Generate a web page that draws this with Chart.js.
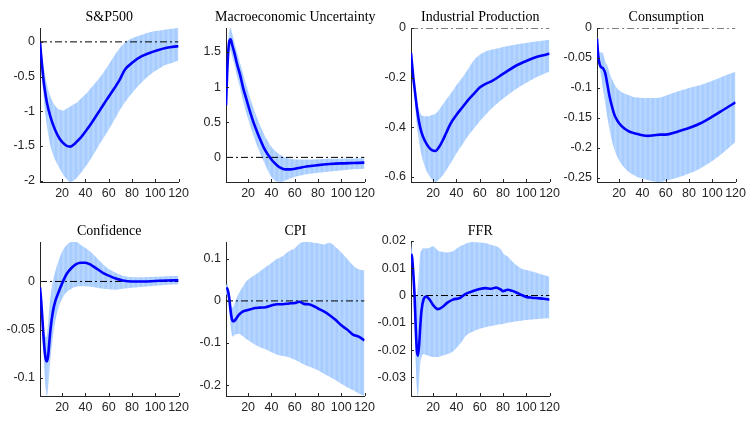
<!DOCTYPE html>
<html>
<head>
<meta charset="utf-8">
<script src="https://cdn.jsdelivr.net/npm/chart.js@4.4.1/dist/chart.umd.min.js"></script>
<style>
  html, body { margin: 0; padding: 0; background: #ffffff; }
  #wrap { position: relative; width: 747px; height: 422px; overflow: hidden; }
  #wrap canvas { position: absolute; }
</style>
</head>
<body>
<div id="wrap"></div>
<script>
// Impulse responses (horizon in months) with posterior median and 68% bands.

const xTickValues = [20, 40, 60, 80, 100, 120];

// S&P500
const spH = [1,2,3,4,5,7,10,14,18,21,24,27,30,33,36,41,46,53,58,64,69,74,81,88,95,102,109,115,120];
const spMed = [0,-0.2,-0.38,-0.55,-0.68,-0.88,-1.08,-1.27,-1.4,-1.46,-1.5,-1.51,-1.48,-1.43,-1.38,-1.27,-1.15,-0.97,-0.84,-0.69,-0.56,-0.4,-0.29,-0.21,-0.16,-0.12,-0.088,-0.072,-0.062];
const spUp = [0,-0.12,-0.24,-0.35,-0.45,-0.62,-0.79,-0.92,-0.98,-0.99,-0.96,-0.93,-0.9,-0.87,-0.82,-0.74,-0.64,-0.5,-0.38,-0.22,-0.1,-0.01,0.06,0.1,0.14,0.16,0.18,0.19,0.2];
const spLo = [0,-0.3,-0.55,-0.78,-0.95,-1.22,-1.5,-1.7,-1.83,-1.92,-1.98,-2.02,-2.0,-1.95,-1.89,-1.78,-1.65,-1.45,-1.32,-1.15,-1.0,-0.87,-0.72,-0.59,-0.48,-0.4,-0.33,-0.3,-0.27];
const spTicks = [0, -0.5, -1, -1.5, -2];

// Macroeconomic Uncertainty
const muH = [1,2,3,4,5,6,8,10,13,16,19,22,25,28,31,34,37,40,44,48,52,56,62,70,80,90,100,110,120];
const muMed = [0.74,1.2,1.52,1.66,1.68,1.62,1.5,1.36,1.18,0.97,0.8,0.63,0.48,0.35,0.23,0.12,0.04,-0.03,-0.1,-0.15,-0.17,-0.17,-0.155,-0.13,-0.11,-0.095,-0.085,-0.08,-0.075];
const muUp = [0.76,1.3,1.68,1.82,1.84,1.78,1.65,1.52,1.35,1.17,0.99,0.83,0.68,0.55,0.43,0.32,0.23,0.15,0.08,0.03,0.0,-0.02,-0.03,-0.03,-0.025,-0.02,-0.018,-0.015,-0.012];
const muLo = [0.72,1.1,1.38,1.5,1.52,1.46,1.33,1.19,0.99,0.78,0.6,0.44,0.29,0.15,0.03,-0.08,-0.19,-0.28,-0.34,-0.35,-0.33,-0.3,-0.27,-0.24,-0.22,-0.2,-0.185,-0.17,-0.16];
const muTicks = [1.5, 1, 0.5, 0];

// Industrial Production
const ipH = [1,2,3,4,5,6,8,10,13,16,19,22,25,28,31,35,40,45,50,55,60,65,70,80,90,100,110,120];
const ipMed = [-0.1,-0.15,-0.2,-0.24,-0.28,-0.32,-0.38,-0.42,-0.455,-0.478,-0.492,-0.495,-0.48,-0.455,-0.425,-0.385,-0.35,-0.32,-0.29,-0.265,-0.24,-0.225,-0.215,-0.185,-0.155,-0.133,-0.115,-0.104];
const ipUp = [-0.1,-0.14,-0.18,-0.22,-0.26,-0.29,-0.33,-0.35,-0.355,-0.355,-0.35,-0.345,-0.33,-0.31,-0.29,-0.265,-0.23,-0.2,-0.165,-0.13,-0.108,-0.095,-0.088,-0.076,-0.067,-0.06,-0.053,-0.047];
const ipLo = [-0.1,-0.16,-0.22,-0.28,-0.34,-0.39,-0.46,-0.51,-0.56,-0.59,-0.61,-0.62,-0.61,-0.595,-0.575,-0.545,-0.505,-0.47,-0.435,-0.405,-0.375,-0.35,-0.325,-0.285,-0.25,-0.22,-0.195,-0.175];
const ipTicks = [0, -0.2, -0.4, -0.6];

// Consumption
const coH = [1,2,3,4,5,6,7,8,10,12,14,16,18,20,24,28,32,36,40,45,50,55,60,70,80,90,100,110,120];
const coMed = [-0.018,-0.045,-0.058,-0.064,-0.066,-0.067,-0.07,-0.075,-0.095,-0.116,-0.132,-0.145,-0.153,-0.159,-0.167,-0.172,-0.175,-0.177,-0.179,-0.18,-0.179,-0.178,-0.178,-0.173,-0.167,-0.159,-0.148,-0.136,-0.124];
const coUp = [-0.015,-0.03,-0.04,-0.04,-0.041,-0.042,-0.048,-0.055,-0.064,-0.076,-0.086,-0.094,-0.1,-0.104,-0.109,-0.112,-0.115,-0.116,-0.117,-0.117,-0.117,-0.116,-0.113,-0.106,-0.1,-0.095,-0.088,-0.08,-0.073];
const coLo = [-0.02,-0.055,-0.065,-0.075,-0.085,-0.1,-0.112,-0.125,-0.15,-0.172,-0.19,-0.203,-0.213,-0.221,-0.232,-0.24,-0.245,-0.249,-0.251,-0.254,-0.256,-0.257,-0.255,-0.25,-0.243,-0.234,-0.222,-0.207,-0.19];
const coTicks = [0, -0.05, -0.1, -0.15, -0.2, -0.25];

// Confidence
const cfH = [1,2,3,4,5,6,7,8,9,10,12,14,17,20,24,28,32,36,40,45,50,55,60,66,72,80,90,100,110,120];
const cfMed = [-0.006,-0.02,-0.038,-0.057,-0.072,-0.081,-0.083,-0.077,-0.063,-0.05,-0.032,-0.021,-0.011,-0.002,0.008,0.014,0.018,0.0195,0.0195,0.017,0.013,0.009,0.006,0.003,0.001,0,0,0.0005,0.001,0.0012];
const cfUp = [-0.005,-0.015,-0.028,-0.043,-0.053,-0.058,-0.055,-0.042,-0.028,-0.016,0.0,0.01,0.022,0.031,0.038,0.041,0.041,0.038,0.035,0.03,0.024,0.018,0.013,0.009,0.006,0.0045,0.0045,0.005,0.0055,0.0056];
const cfLo = [-0.007,-0.025,-0.05,-0.075,-0.096,-0.113,-0.119,-0.11,-0.095,-0.08,-0.058,-0.042,-0.027,-0.018,-0.011,-0.0075,-0.0055,-0.005,-0.005,-0.0055,-0.0065,-0.0075,-0.008,-0.0085,-0.0075,-0.0065,-0.0055,-0.0045,-0.0035,-0.003];
const cfTicks = [0, -0.05, -0.1];

// CPI
const cpH = [1,2,3,4,5,6,7,8,9,10,12,15,18,22,26,30,35,40,45,50,55,60,64,68,72,76,80,85,90,95,100,105,110,115,120];
const cpMed = [0.028,0.03,0.02,0.002,-0.025,-0.042,-0.048,-0.048,-0.045,-0.041,-0.033,-0.026,-0.023,-0.02,-0.017,-0.016,-0.015,-0.011,-0.008,-0.008,-0.006,-0.005,-0.002,-0.007,-0.008,-0.012,-0.018,-0.025,-0.034,-0.045,-0.058,-0.068,-0.08,-0.085,-0.094];
const cpUp = [0.036,0.042,0.03,0.008,-0.008,-0.016,-0.015,-0.008,0.0,0.006,0.018,0.032,0.045,0.055,0.062,0.07,0.08,0.09,0.1,0.107,0.118,0.125,0.136,0.14,0.14,0.138,0.137,0.134,0.138,0.128,0.115,0.1,0.085,0.075,0.072];
const cpLo = [0.016,0.012,-0.005,-0.03,-0.06,-0.08,-0.085,-0.082,-0.08,-0.079,-0.078,-0.083,-0.09,-0.097,-0.104,-0.11,-0.115,-0.122,-0.128,-0.131,-0.134,-0.14,-0.145,-0.151,-0.156,-0.16,-0.165,-0.173,-0.18,-0.188,-0.197,-0.205,-0.212,-0.22,-0.226];
const cpTicks = [0.1, 0, -0.1, -0.2];

// FFR
const ffH = [1,2,3,4,5,6,7,8,9,10,12,14,17,20,24,28,32,37,43,48,54,60,65,70,74,78,80,84,88,92,96,100,105,110,115,120];
const ffMed = [0.0153,0.0138,0.008,0.0005,-0.011,-0.02,-0.022,-0.018,-0.011,-0.0055,-0.0012,-0.0004,-0.0015,-0.0035,-0.005,-0.0042,-0.0027,-0.0015,-0.0009,0.0006,0.0016,0.0024,0.0027,0.0025,0.0029,0.0022,0.0016,0.0021,0.0017,0.001,0.0002,-0.0005,-0.0008,-0.001,-0.0012,-0.0015];
const ffUp = [0.0196,0.0155,0.0105,0.005,0.0005,-0.0002,0.004,0.01,0.0155,0.0165,0.0174,0.0172,0.0175,0.018,0.0165,0.016,0.0158,0.0162,0.018,0.019,0.0196,0.0194,0.0192,0.0185,0.018,0.017,0.0155,0.0143,0.0125,0.011,0.0098,0.0093,0.0088,0.0082,0.0075,0.0069];
const ffLo = [0.0134,0.0105,0.001,-0.011,-0.024,-0.034,-0.0368,-0.031,-0.025,-0.0225,-0.0215,-0.0218,-0.0222,-0.0225,-0.0225,-0.022,-0.0215,-0.0205,-0.0178,-0.0148,-0.0133,-0.0122,-0.0116,-0.0112,-0.0108,-0.0105,-0.0104,-0.01,-0.0097,-0.0094,-0.0092,-0.009,-0.0088,-0.0086,-0.0084,-0.0083];
const ffTicks = [0.02, 0.01, 0, -0.01, -0.02, -0.03];

const panels = [
  { title: 'S&P500', h: spH, med: spMed, up: spUp, lo: spLo, ticks: spTicks, col: 0, row: 0 },
  { title: 'Macroeconomic Uncertainty', h: muH, med: muMed, up: muUp, lo: muLo, ticks: muTicks, col: 1, row: 0 },
  { title: 'Industrial Production', h: ipH, med: ipMed, up: ipUp, lo: ipLo, ticks: ipTicks, col: 2, row: 0 },
  { title: 'Consumption', h: coH, med: coMed, up: coUp, lo: coLo, ticks: coTicks, col: 3, row: 0 },
  { title: 'Confidence', h: cfH, med: cfMed, up: cfUp, lo: cfLo, ticks: cfTicks, col: 0, row: 1 },
  { title: 'CPI', h: cpH, med: cpMed, up: cpUp, lo: cpLo, ticks: cpTicks, col: 1, row: 1 },
  { title: 'FFR', h: ffH, med: ffMed, up: ffUp, lo: ffLo, ticks: ffTicks, col: 2, row: 1 }
];

// Layout of the plotting areas
const colLeft = [40, 226, 411, 597];
const rowTop = [28, 242];
const plotW = 139, plotH = 154;
const padL = 40, padT = 26, padR = 14, padB = 26;

const axisColor = '#262626';
const tickFont = { family: '"Liberation Sans", Arial, Helvetica, sans-serif', size: 12.5 };
const titleFont = '14px "Liberation Serif", "Times New Roman", Times, serif';

// Light blue band with faint vertical striping
function bandPattern() {
  const c = document.createElement('canvas');
  c.width = 5; c.height = 1;
  const g = c.getContext('2d');
  const cols = ['#a7ccff', '#a9cdff', '#b2d3ff', '#b9d8ff', '#afd1ff'];
  cols.forEach((k, i) => { g.fillStyle = k; g.fillRect(i, 0, 1, 1); });
  return g.createPattern(c, 'repeat');
}

const pts = (xs, ys) => xs.map((x, i) => ({ x: x, y: ys[i] }));

// Title above the plot area and short inward tick marks
const decor = {
  id: 'decor',
  afterDraw(chart, args, opts) {
    const ctx = chart.ctx, a = chart.chartArea;
    ctx.save();
    ctx.fillStyle = '#000';
    ctx.font = titleFont;
    ctx.textAlign = 'center';
    ctx.textBaseline = 'middle';
    ctx.fillText(opts.text, (a.left + a.right) / 2, a.top - 11);
    ctx.strokeStyle = axisColor;
    ctx.lineWidth = 1;
    ctx.beginPath();
    chart.scales.x.ticks.forEach(t => {
      const px = Math.round(chart.scales.x.getPixelForValue(t.value)) + 0.5;
      ctx.moveTo(px, a.bottom); ctx.lineTo(px, a.bottom - 3);
    });
    chart.scales.y.ticks.forEach(t => {
      const py = Math.round(chart.scales.y.getPixelForValue(t.value)) + 0.5;
      ctx.moveTo(a.left, py); ctx.lineTo(a.left + 3, py);
    });
    ctx.stroke();
    ctx.restore();
  }
};

const wrap = document.getElementById('wrap');
const fillPat = bandPattern();

panels.forEach(p => {
  const cv = document.createElement('canvas');
  const W = padL + plotW + padR, H = padT + plotH + padB;
  cv.width = W; cv.height = H;
  cv.style.left = (colLeft[p.col] - padL) + 'px';
  cv.style.top = (rowTop[p.row] - padT) + 'px';
  cv.style.width = W + 'px'; cv.style.height = H + 'px';
  wrap.appendChild(cv);

  // tight limits over the bands and the zero reference line
  const yMin = Math.min(0, ...p.lo), yMax = Math.max(0, ...p.up);

  new Chart(cv, {
    type: 'line',
    data: {
      datasets: [
        { data: pts(p.h, p.med), borderColor: '#0000ff', borderWidth: 2.6, pointRadius: 0,
          fill: false, cubicInterpolationMode: 'monotone', order: 0 },
        { data: [{ x: 1, y: 0 }, { x: 120, y: 0 }], borderColor: '#000000', borderWidth: 1,
          borderDash: [7, 3, 2, 3], pointRadius: 0, fill: false, order: 1 },
        { data: pts(p.h, p.up), borderWidth: 0, borderColor: 'rgba(0,0,0,0)', pointRadius: 0,
          backgroundColor: fillPat, fill: '+1', cubicInterpolationMode: 'monotone', order: 2 },
        { data: pts(p.h, p.lo), borderWidth: 0, borderColor: 'rgba(0,0,0,0)', pointRadius: 0,
          fill: false, cubicInterpolationMode: 'monotone', order: 3 }
      ]
    },
    options: {
      responsive: false,
      animation: false,
      devicePixelRatio: 1,
      layout: { autoPadding: false, padding: { top: padT, right: padR, left: 0, bottom: 0 } },
      plugins: { legend: { display: false }, tooltip: { enabled: false }, decor: { text: p.title } },
      scales: {
        x: {
          type: 'linear', min: 1, max: 120,
          afterBuildTicks: s => { s.ticks = xTickValues.map(v => ({ value: v })); },
          afterFit: s => { s.height = padB; },
          grid: { display: true, drawOnChartArea: false, drawTicks: false },
          border: { display: true, color: axisColor, width: 1 },
          ticks: { color: axisColor, font: tickFont, padding: 4, maxRotation: 0, autoSkip: false,
                   callback: v => String(v) }
        },
        y: {
          type: 'linear', min: yMin, max: yMax,
          afterBuildTicks: s => { s.ticks = p.ticks.map(v => ({ value: v })); },
          afterFit: s => { s.width = padL; },
          grid: { display: true, drawOnChartArea: false, drawTicks: false },
          border: { display: true, color: axisColor, width: 1 },
          ticks: { color: axisColor, font: tickFont, padding: 5, autoSkip: false,
                   callback: v => String(v) }
        }
      }
    },
    plugins: [decor]
  });
});
</script>
</body>
</html>
